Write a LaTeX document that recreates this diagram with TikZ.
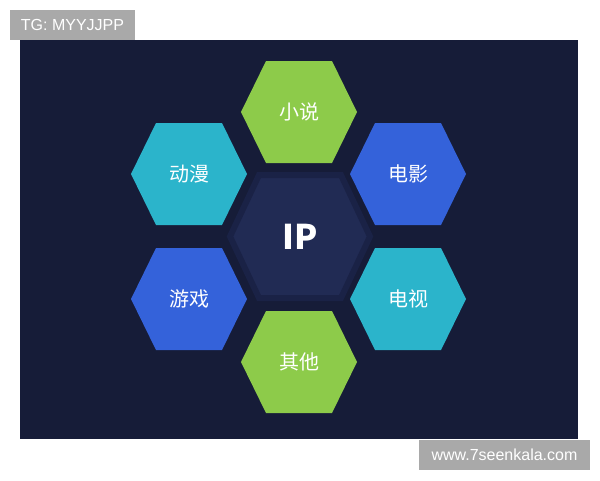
\documentclass[tikz,border=0pt]{standalone}
\usepackage{fontspec}
\setmainfont{Liberation Sans}
\newfontfamily\cjk{Noto Sans CJK SC}

\definecolor{bgnavy}{HTML}{161C38}
\definecolor{ipfill}{HTML}{212B54}
\definecolor{ipring}{HTML}{1A2246}
\definecolor{hexgreen}{HTML}{8DCB4A}
\definecolor{hexteal}{HTML}{2BB4CB}
\definecolor{hexblue}{HTML}{3462DA}
\definecolor{markgray}{HTML}{A9A9A9}

\begin{document}
\begin{tikzpicture}[x=1pt, y=-1pt,
	hexlabel/.style={text=white, font=\cjk\fontsize{20}{24}\selectfont, inner sep=0},
	iplabel/.style={text=white, font=\cjk\bfseries\fontsize{34}{40}\selectfont, inner sep=0},
	markbox/.style={fill=markgray, text=white, font=\fontsize{16}{19}\selectfont, inner sep=0, minimum height=30pt}]

\useasboundingbox (0,0) rectangle (600,480);
\fill[white] (0,0) rectangle (600,480);
\fill[bgnavy] (20,40) rectangle (578,439);

\newcommand\hexa[5]{
	\fill[#4] ({#2-58},#3) -- ({#2-33},{#3-51}) -- ({#2+33},{#3-51}) -- ({#2+58},#3) -- ({#2+33},{#3+51}) -- ({#2-33},{#3+51}) -- cycle;
	\node[hexlabel] (#1) at (#2,#3) {#5};
}

\fill[ipfill, draw=ipring, line width=6pt, line join=miter] (230,236.5) -- (259,175) -- (341,175) -- (370,236.5) -- (341,298) -- (259,298) -- cycle;
\node[iplabel] (ip) at (300,236.5) {IP};

\hexa{novel}{299}{112}{hexgreen}{小说};
\hexa{anime}{189}{174}{hexteal}{动漫};
\hexa{film}{408}{174}{hexblue}{电影};
\hexa{game}{189}{299}{hexblue}{游戏};
\hexa{tv}{408}{299}{hexteal}{电视};
\hexa{other}{299}{362}{hexgreen}{其他};

\node[markbox, minimum width=125pt] (tg) at (72.5,25) {TG: MYYJJPP};
\node[markbox, minimum width=171pt] (site) at (504.5,455) {www.7seenkala.com};

\end{tikzpicture}
\end{document}
